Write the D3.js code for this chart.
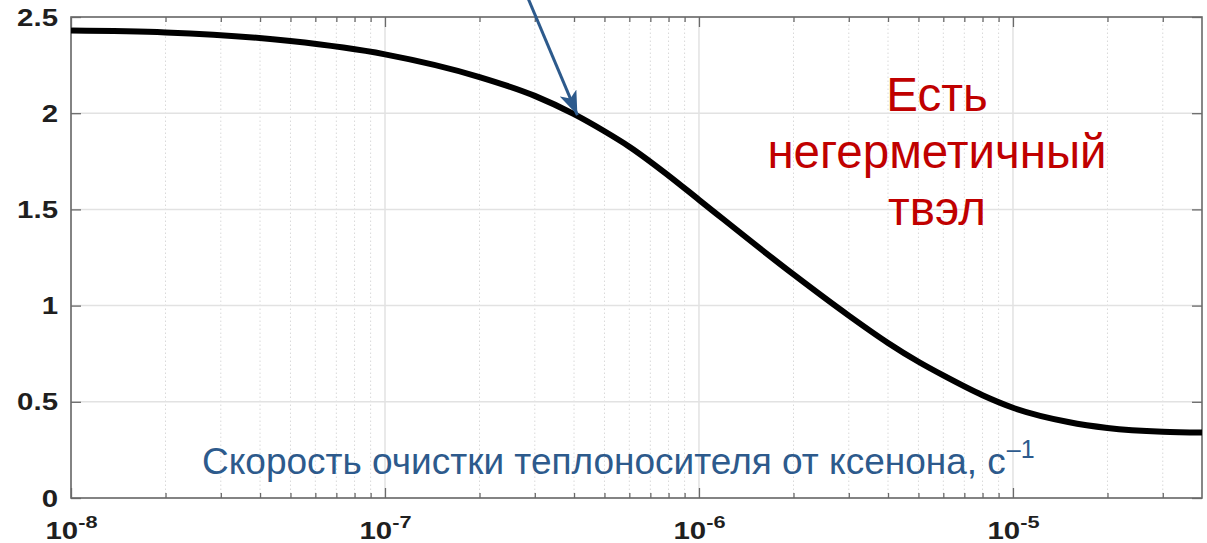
<!DOCTYPE html>
<html>
<head>
<meta charset="utf-8">
<script src="https://cdn.jsdelivr.net/npm/d3@7"></script>
<style>
  body { margin: 0; background: #fff; }
  svg { display: block; }
  .tick-label { font-family: "Liberation Sans", Arial, sans-serif; font-weight: bold; fill: #1f1f1f; }
</style>
</head>
<body>
<div id="chart"></div>
<script>
// curve: cleanup rate (1/s) vs. value
const rates = [1e-8, 2e-8, 5e-8, 1e-7, 2e-7, 3e-7, 4e-7, 5e-7, 6e-7, 8e-7,
  1e-6, 2e-6, 3e-6, 4e-6, 5e-6, 6e-6, 8e-6, 1e-5, 1.5e-5, 2e-5, 3e-5, 4e-5]
const values = [2.430, 2.420, 2.375, 2.306, 2.188, 2.090, 1.995, 1.906, 1.826, 1.676,
  1.550, 1.162, 0.948, 0.806, 0.708, 0.637, 0.534, 0.469, 0.395, 0.364, 0.344, 0.340]

const xMajorTicks = [1e-8, 1e-7, 1e-6, 1e-5]
const xTickExponents = ["-8", "-7", "-6", "-5"]
const yTicks = [0, 0.5, 1, 1.5, 2, 2.5]

const axisLabel = "Скорость очистки теплоносителя от ксенона, с"
const axisLabelSup = "–1"
const noteLines = ["Есть", "негерметичный", "твэл"]
// arrow from above the plot to the curve, in data units
const arrowFrom = [2.8e-7, 2.63]
const arrowTo = [4.1e-7, 1.99]

const W = 1207, H = 543
const margin = { top: 17, right: 5, bottom: 45, left: 71 }
const stretch = 1.28 // the tick labels look horizontally stretched

const svg = d3.select("#chart").append("svg")
  .attr("width", W).attr("height", H)

const x = d3.scaleLog().domain([1e-8, 4e-5]).range([margin.left, W - margin.right])
const y = d3.scaleLinear().domain([0, 2.5]).range([H - margin.bottom, margin.top])

// minor ticks 2..9 in each decade
const xMinorTicks = []
for (let e = -8; e <= -5; e++) {
  for (let m = 2; m <= 9; m++) {
    const v = m * Math.pow(10, e)
    if (v < 4e-5) xMinorTicks.push(v)
  }
}

// grid
const grid = svg.append("g")
grid.selectAll(".minor").data(xMinorTicks).enter().append("line")
  .attr("x1", d => x(d)).attr("x2", d => x(d))
  .attr("y1", y(0)).attr("y2", y(2.5))
  .attr("stroke", "#d9d9d9").attr("stroke-width", 1).attr("stroke-dasharray", "1.5,2.5")
grid.selectAll(".majx").data(xMajorTicks).enter().append("line")
  .attr("x1", d => x(d)).attr("x2", d => x(d))
  .attr("y1", y(0)).attr("y2", y(2.5))
  .attr("stroke", "#e2e2e2").attr("stroke-width", 1.5)
grid.selectAll(".majy").data(yTicks).enter().append("line")
  .attr("x1", x(1e-8)).attr("x2", x(4e-5))
  .attr("y1", d => y(d)).attr("y2", d => y(d))
  .attr("stroke", "#e2e2e2").attr("stroke-width", 1.5)

// axes with inward ticks
function styleAxis(g) {
  g.select(".domain").remove()
  g.selectAll(".tick line").attr("stroke", "#6a6a6a").attr("stroke-width", 1.3)
}
svg.append("g").attr("transform", `translate(0,${y(0)})`)
  .call(d3.axisBottom(x).tickValues(xMinorTicks).tickSize(-5).tickFormat(""))
  .call(styleAxis)
svg.append("g").attr("transform", `translate(0,${y(2.5)})`)
  .call(d3.axisTop(x).tickValues(xMinorTicks).tickSize(-5).tickFormat(""))
  .call(styleAxis)
svg.append("g").attr("transform", `translate(0,${y(2.5)})`)
  .call(d3.axisTop(x).tickValues(xMajorTicks).tickSize(-10).tickFormat(""))
  .call(styleAxis)

const xAxis = svg.append("g").attr("transform", `translate(0,${y(0)})`)
  .call(d3.axisBottom(x).tickValues(xMajorTicks).tickSize(-10).tickFormat(""))
  .call(styleAxis)
xAxis.selectAll(".tick text").remove()
xAxis.selectAll(".tick").append("text")
  .attr("class", "tick-label")
  .attr("transform", `scale(${stretch},1)`)
  .attr("text-anchor", "middle")
  .attr("y", 41)
  .style("font-size", "23px")
  .each(function (d, i) {
    const t = d3.select(this)
    t.append("tspan").text("10")
    t.append("tspan").attr("dy", -11).style("font-size", "17px").text(xTickExponents[i])
  })

const yAxis = svg.append("g").attr("transform", `translate(${x(1e-8)},0)`)
  .call(d3.axisLeft(y).tickValues(yTicks).tickSize(-10).tickFormat(d => d))
  .call(styleAxis)
yAxis.selectAll(".tick text")
  .attr("class", "tick-label")
  .attr("transform", `scale(${stretch},1)`)
  .attr("x", -13 / stretch)
  .attr("dy", "0.35em")
  .style("font-size", "23px")

svg.append("g").attr("transform", `translate(${x(4e-5)},0)`)
  .call(d3.axisRight(y).tickValues(yTicks).tickSize(-10).tickFormat(""))
  .call(styleAxis)

// box
svg.append("rect")
  .attr("x", x(1e-8)).attr("y", y(2.5))
  .attr("width", x(4e-5) - x(1e-8)).attr("height", y(0) - y(2.5))
  .attr("fill", "none").attr("stroke", "#6a6a6a").attr("stroke-width", 1.6)

// curve
const pts = rates.map((r, i) => ({ r: r, v: values[i] }))
const line = d3.line().x(d => x(d.r)).y(d => y(d.v)).curve(d3.curveMonotoneX)
svg.append("path").datum(pts)
  .attr("d", line)
  .attr("fill", "none").attr("stroke", "#000").attr("stroke-width", 6)

// axis caption inside the plot
const cap = svg.append("text")
  .attr("x", 202).attr("y", 474)
  .style("font-family", "'Liberation Sans', Arial, sans-serif")
  .style("font-size", "37px")
  .attr("fill", "#2d5a8c")
cap.append("tspan").text(axisLabel)
cap.append("tspan").attr("dx", 1).attr("dy", -16).style("font-size", "25px").text(axisLabelSup)

// red note
svg.append("text")
  .attr("text-anchor", "middle")
  .style("font-family", "'Liberation Sans', Arial, sans-serif")
  .style("font-size", "47.5px")
  .attr("fill", "#c00000")
  .selectAll("tspan").data(noteLines).enter().append("tspan")
  .attr("x", 937).attr("y", (d, i) => 111 + i * 57)
  .text(d => d)

// arrow
const defs = svg.append("defs")
defs.append("marker")
  .attr("id", "head").attr("markerUnits", "userSpaceOnUse")
  .attr("viewBox", "0 0 24 18").attr("markerWidth", 24).attr("markerHeight", 18)
  .attr("refX", 24).attr("refY", 9).attr("orient", "auto")
  .append("path").attr("d", "M0,0 L24,9 L0,18 L6,9 Z").attr("fill", "#2d5a8c")

const ax0 = x(arrowFrom[0]), ay0 = y(arrowFrom[1])
const ax1 = x(arrowTo[0]), ay1 = y(arrowTo[1])
svg.append("line")
  .attr("x1", ax0).attr("y1", ay0).attr("x2", ax1).attr("y2", ay1)
  .attr("stroke", "#2d5a8c").attr("stroke-width", 3)
  .attr("marker-end", "url(#head)")
</script>
</body>
</html>
